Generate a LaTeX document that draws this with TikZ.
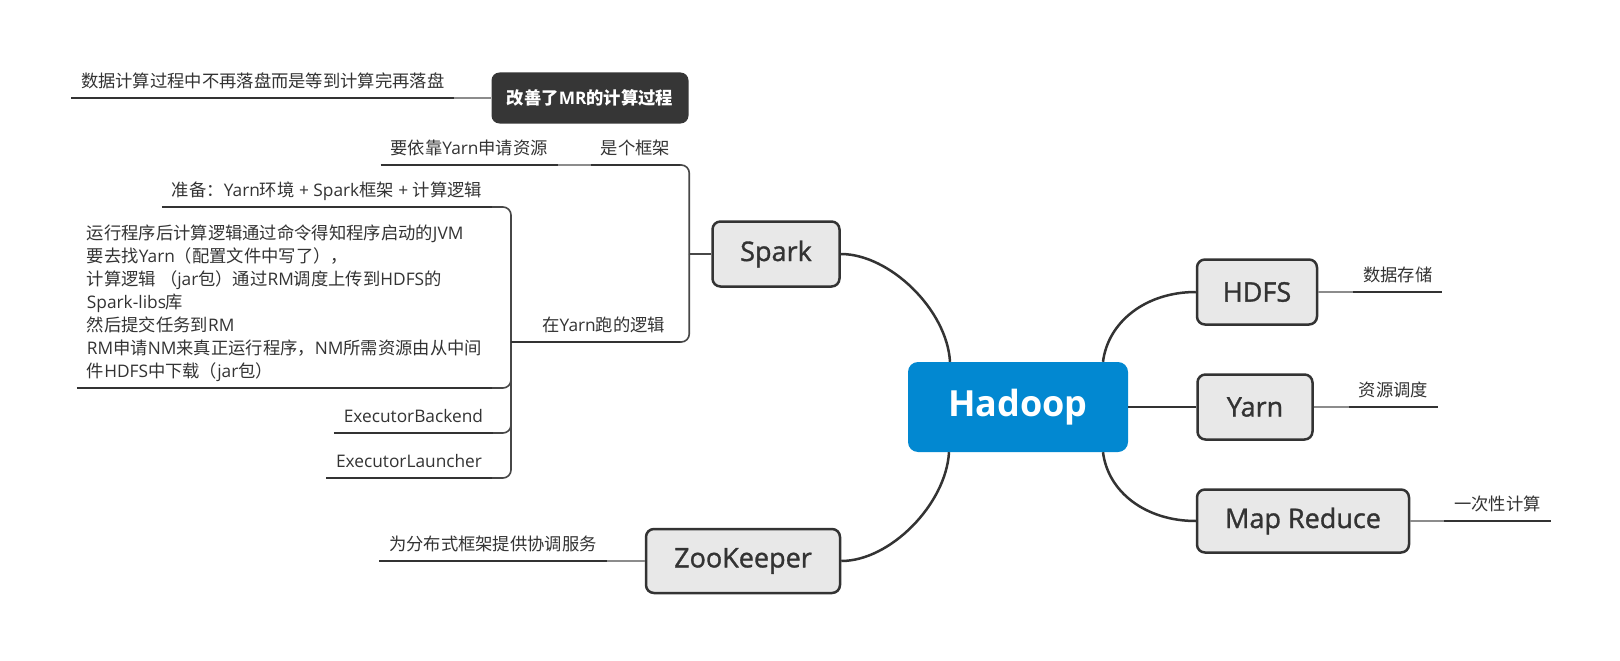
\documentclass[tikz,border=0pt]{standalone}
\usepackage{fontspec}
\setmainfont{Open Sans}
\newfontfamily\zhfont{Noto Sans CJK SC}
\newfontfamily\topicfont[FakeBold=1.2]{Open Sans}
\newcommand\zh[1]{{\zhfont #1}}
\usepackage{tikz}
\usetikzlibrary{positioning}

\definecolor{inkgray}{HTML}{333333}
\definecolor{boxgray}{HTML}{E8E8E8}
\definecolor{linkgray}{HTML}{8C8C8C}
\definecolor{hadoopblue}{HTML}{0288D1}
\definecolor{darkbox}{HTML}{363636}

\begin{document}
\begin{tikzpicture}[
        x=1pt, y=-1pt,
        topic/.style={
            rectangle, rounded corners=8pt, draw=inkgray, line width=2.5pt,
            fill=boxgray, text=inkgray, inner sep=0pt,
            font=\fontsize{27}{32}\selectfont\topicfont
        },
        central/.style={
            rectangle, rounded corners=10pt, fill=hadoopblue, text=white,
            minimum width=220pt, minimum height=90pt,
            font=\fontsize{36}{40}\selectfont\bfseries
        },
        note/.style={
            rectangle, rounded corners=8pt, fill=darkbox, text=white,
            minimum width=197pt, minimum height=51pt,
            font=\fontsize{17.3}{20}\selectfont\bfseries
        },
        lbl/.style={
            inner xsep=10pt, inner ysep=4.5pt, outer sep=0pt,
            text depth=6pt, text=inkgray,
            font=\fontsize{17.3}{23}\selectfont
        },
        branch/.style={line width=2.5pt, inkgray},
        uline/.style={line width=2pt, inkgray},
        link/.style={line width=1.5pt, linkgray},
        fork/.style={line width=1.6pt, inkgray!90, rounded corners=8pt}
    ]
    \useasboundingbox (0,0) rectangle (1620,661);
    \fill[white] (0,0) rectangle (1620,661);

    % === Main topics ===
    \node[central] (hadoop) at (1018,407) {Hadoop};
    \node[topic, minimum width=127pt, minimum height=65pt] (spark) at (776,254) {Spark};
    \node[topic, minimum width=194pt, minimum height=64pt] (zoo) at (743,561) {ZooKeeper};
    \node[topic, minimum width=120pt, minimum height=65pt] (hdfs) at (1257,292) {HDFS};
    \node[topic, minimum width=115pt, minimum height=65pt] (yarn) at (1255,407) {Yarn};
    \node[topic, minimum width=212pt, minimum height=63pt] (mr) at (1303,521) {Map Reduce};

    % === Branches from Hadoop ===
    \draw[branch] ([xshift=-68pt]hadoop.north) .. controls +(-3,-52) and +(49,0) .. (spark.east);
    \draw[branch] ([xshift=-69pt]hadoop.south) .. controls +(-3,52) and +(49,0) .. (zoo.east);
    \draw[branch] ([xshift=85pt]hadoop.north) .. controls +(5,-40) and +(-50,0) .. (hdfs.west);
    \draw[branch] (hadoop.east) -- (yarn.west);
    \draw[branch] ([xshift=85pt]hadoop.south) .. controls +(5,40) and +(-50,0) .. (mr.west);

    % === Right side notes ===
    \node[lbl, right=35pt of hdfs.east, anchor=south west] (store) {\zh{数据存储}};
    \node[lbl, right=35pt of yarn.east, anchor=south west] (sched) {\zh{资源调度}};
    \node[lbl, right=34pt of mr.east, anchor=south west] (once) {\zh{一次性计算}};
    \draw[link] (hdfs.east) -- (store.south west);
    \draw[link] (yarn.east) -- (sched.south west);
    \draw[link] (mr.east) -- (once.south west);

    % === ZooKeeper note ===
    \node[lbl, left=38pt of zoo.west, anchor=south east] (coord) {\zh{为分布式框架提供协调服务}};
    \draw[link] (zoo.west) -- (coord.south east);

    % === Floating topic ===
    \node[note] (mrnote) at (590,98) {\zh{改善了}MR\zh{的计算过程}};
    \node[lbl, left=37pt of mrnote.west, anchor=south east] (nodisk) {\zh{数据计算过程中不再落盘而是等到计算完再落盘}};
    \draw[link] (mrnote.west) -- (nodisk.south east);

    % === Spark subtree ===
    \node[lbl, anchor=south east] (frame) at (680,165) {\zh{是个框架}};
    \node[lbl, left=33pt of frame.south west, anchor=south east] (askres) {\zh{要依靠}Yarn\zh{申请资源}};
    \node[lbl, anchor=south east, text width=139pt, align=right, inner xsep=15pt] (yarnlogic) at (680,342) {\zh{在}Yarn\zh{跑的逻辑}};
    \coordinate (sparkfork) at ([xshift=-22pt]spark.west);
    \draw[fork] (spark.west) -- (sparkfork);
    \draw[fork] (sparkfork) |- (frame.south east);
    \draw[fork] (sparkfork) |- (yarnlogic.south east);
    \draw[link] (frame.south west) -- (askres.south east);

    % === Running on Yarn ===
    \node[lbl, anchor=south east] (prep) at (492,207) {\zh{准备：}Yarn\zh{环境} + Spark\zh{框架} + \zh{计算逻辑}};
    \node[lbl, anchor=south east, align=left] (multi) at (492,388) {%
        \zh{运行程序后计算逻辑通过命令得知程序启动的}JVM\\
        \zh{要去找}Yarn\zh{（配置文件中写了），}\\
        \zh{计算逻辑 （}jar\zh{包）通过}RM\zh{调度上传到}HDFS\zh{的}\\
        Spark-libs\zh{库}\\
        \zh{然后提交任务到}RM\\
        RM\zh{申请}NM\zh{来真正运行程序，}NM\zh{所需资源由从中间}\\
        \zh{件}HDFS\zh{中下载（}jar\zh{包）}};
    \node[lbl, anchor=south east] (backend) at (493,433) {ExecutorBackend};
    \node[lbl, anchor=south east] (launcher) at (492,478) {ExecutorLauncher};
    \foreach \n in {prep,multi,backend,launcher}
        \draw[fork] (yarnlogic.south west) |- (\n.south east);

    % === Underlines ===
    \foreach \n in {store,sched,once,coord,nodisk,frame,askres,yarnlogic,prep,multi,backend,launcher}
        \draw[uline] (\n.south west) -- (\n.south east);

\end{tikzpicture}
\end{document}
